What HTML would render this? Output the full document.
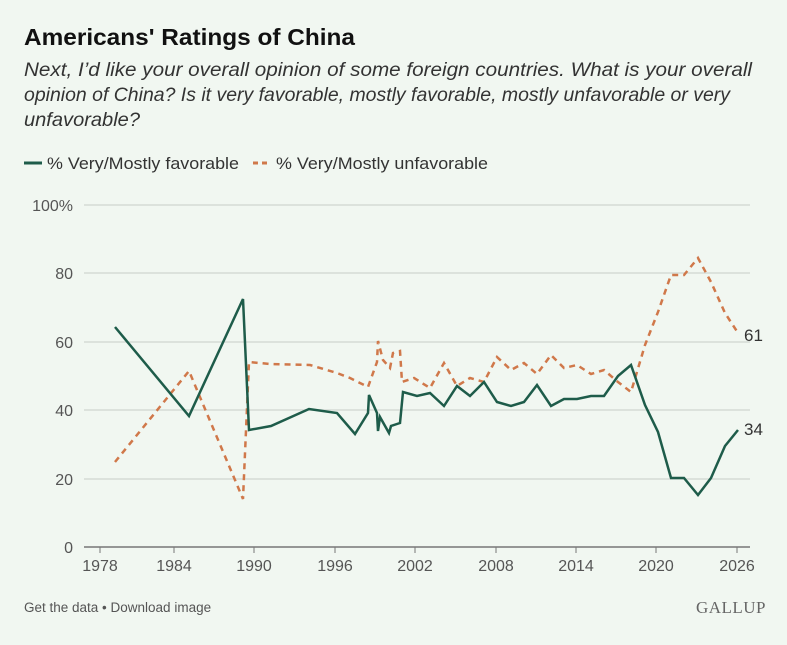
<!DOCTYPE html>
<html><head><meta charset="utf-8"><style>
body{margin:0;width:787px;height:645px;background:#f1f7f1;font-family:"Liberation Sans",sans-serif;overflow:hidden}
svg{position:absolute;left:0;top:0}
</style></head><body>
<svg width="787" height="645" viewBox="0 0 787 645">
<rect width="787" height="645" fill="#f1f7f1"/>
<text x="24" y="45" font-size="23" font-weight="bold" fill="#111" textLength="331" lengthAdjust="spacingAndGlyphs">Americans' Ratings of China</text>
<g font-size="19" font-style="italic" fill="#333">
<text x="24" y="76" textLength="728" lengthAdjust="spacingAndGlyphs">Next, I’d like your overall opinion of some foreign countries. What is your overall</text>
<text x="24" y="101" textLength="706" lengthAdjust="spacingAndGlyphs">opinion of China? Is it very favorable, mostly favorable, mostly unfavorable or very</text>
<text x="24" y="126" textLength="116" lengthAdjust="spacingAndGlyphs">unfavorable?</text>
</g>
<line x1="24" y1="163" x2="42" y2="163" stroke="#1e5c4a" stroke-width="3"/>
<text x="47" y="169" font-size="16.5" fill="#333" textLength="192" lengthAdjust="spacingAndGlyphs">% Very/Mostly favorable</text>
<line x1="253" y1="163" x2="271" y2="163" stroke="#d0784a" stroke-width="3" stroke-dasharray="5,4"/>
<text x="276" y="169" font-size="16.5" fill="#333" textLength="212" lengthAdjust="spacingAndGlyphs">% Very/Mostly unfavorable</text>
<g stroke="#d6dcd6" stroke-width="1.5">
<line x1="84" y1="205" x2="750" y2="205"/><line x1="84" y1="273" x2="750" y2="273"/><line x1="84" y1="342" x2="750" y2="342"/><line x1="84" y1="410" x2="750" y2="410"/><line x1="84" y1="479" x2="750" y2="479"/>
</g>
<line x1="84" y1="547" x2="750" y2="547" stroke="#777" stroke-width="1.5"/>
<g font-size="16" fill="#555" text-anchor="end">
<text x="73" y="211">100%</text><text x="73" y="279">80</text><text x="73" y="348">60</text><text x="73" y="416">40</text><text x="73" y="485">20</text><text x="73" y="553">0</text>
</g>
<g font-size="16" fill="#555" text-anchor="middle">
<text x="100" y="571">1978</text><text x="174" y="571">1984</text><text x="254" y="571">1990</text><text x="335" y="571">1996</text><text x="415" y="571">2002</text><text x="496" y="571">2008</text><text x="576" y="571">2014</text><text x="656" y="571">2020</text><text x="737" y="571">2026</text>
</g>
<g stroke="#777"><line x1="100" y1="547" x2="100" y2="553"/><line x1="174" y1="547" x2="174" y2="553"/><line x1="254" y1="547" x2="254" y2="553"/><line x1="335" y1="547" x2="335" y2="553"/><line x1="415" y1="547" x2="415" y2="553"/><line x1="496" y1="547" x2="496" y2="553"/><line x1="576" y1="547" x2="576" y2="553"/><line x1="656" y1="547" x2="656" y2="553"/><line x1="737" y1="547" x2="737" y2="553"/></g>
<polyline fill="none" stroke="#d0784a" stroke-width="2.5" stroke-dasharray="6,5" points="115,462 189,371 243,499 249,362 270,364 310,365 337,373 350,378 368,387 377,362 378,341 383,360 390,368 393,353 400,351 402,382 414,378 430,388 444,363 457,386 470,378 484,382 497,357 511,370 524,363 537,374 551,355 564,368 577,365 591,374 604,370 618,382 631,392 645,345 658,312 671,275 684,275 698,258 711,282 725,313 738,333"/>
<polyline fill="none" stroke="#1e5c4a" stroke-width="2.5" points="115,327 189,416 243,299 249,430 271,426 309,409 337,413 355,434 368,413 369,395 377,413 378,431 380,417 389,433 391,426 400,423 403,392 417,396 430,393 444,406 457,386 470,396 484,382 497,402 511,406 524,402 537,385 551,406 564,399 577,399 591,396 604,396 618,376 631,365 645,405 658,432 671,478 684,478 698,495 711,478 725,446 738,430"/>
<text x="744" y="341" font-size="17" fill="#333">61</text>
<text x="744" y="435" font-size="17" fill="#333">34</text>
<text x="24" y="612" font-size="13.5" fill="#555">Get the data • Download image</text>
<text x="766" y="613" font-size="17" fill="#666" text-anchor="end" font-family="Liberation Serif,serif" letter-spacing="0.5">GALLUP</text>
</svg>
</body></html>
